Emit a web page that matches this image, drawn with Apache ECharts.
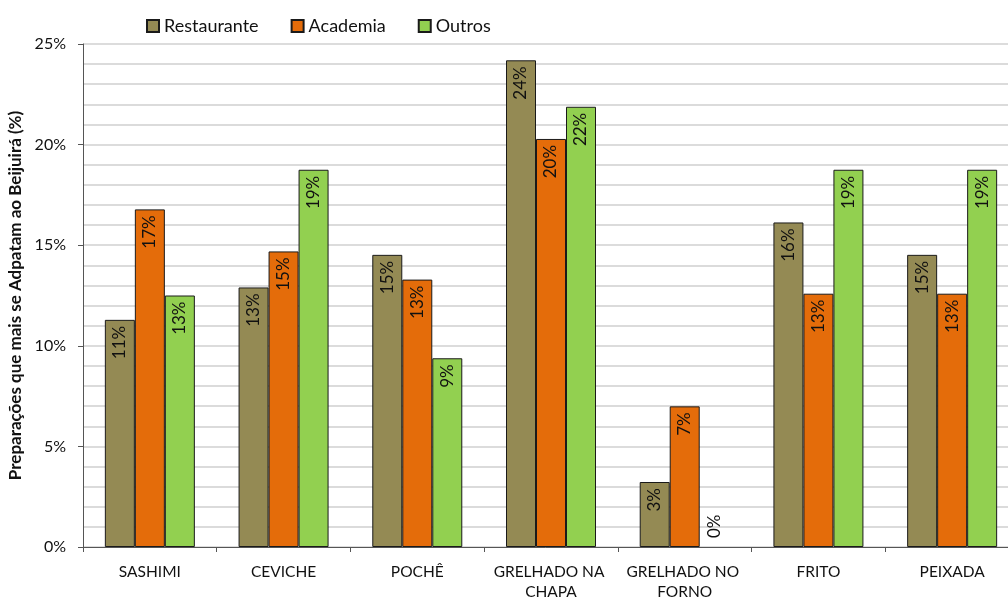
<!DOCTYPE html>
<html>
<head>
<meta charset="utf-8">
<script src="https://cdn.jsdelivr.net/npm/echarts@6/dist/echarts.min.js"></script>
<style>
html,body{margin:0;padding:0;background:#fff;}
#chart{width:1008px;height:598px;}
</style>
</head>
<body>
<div id="chart"></div>
<script>
// Categories and values (percent) per group
const categories = ['SASHIMI', 'CEVICHE', 'POCHÊ', 'GRELHADO NA CHAPA', 'GRELHADO NO FORNO', 'FRITO', 'PEIXADA'];
const restaurante = [11.29, 12.90, 14.52, 24.19, 3.23, 16.13, 14.52];
const academia = [16.78, 14.69, 13.29, 20.28, 6.99, 12.59, 12.59];
const outros = [12.50, 18.75, 9.38, 21.88, 0.00, 18.75, 18.75];
const yTicks = [0, 5, 10, 15, 20, 25];

const FONT = 'Lato, "Open Sans", sans-serif';

// A zero-height bar keeps its label above the axis and shows no outline
function labelled(values) {
  return values.map(v => {
    if (v === 0) {
      return {
        value: v,
        itemStyle: { borderWidth: 0 },
        label: { position: 'insideBottom', align: 'left', distance: 9 }
      };
    }
    return v;
  });
}

function bar(name, values, color) {
  return {
    name: name,
    type: 'bar',
    data: labelled(values),
    barWidth: 30,
    barGap: '0%',
    itemStyle: { color: color, borderColor: '#1a1a1a', borderWidth: 1 },
    label: {
      show: true,
      position: 'insideTop',
      rotate: 90,
      align: 'right',
      verticalAlign: 'middle',
      distance: 6,
      color: '#111',
      fontFamily: FONT,
      fontSize: 17,
      formatter: p => Math.round(p.value) + '%'
    }
  };
}

const chart = echarts.init(document.getElementById('chart'));
chart.setOption({
  animation: false,
  backgroundColor: '#fff',
  textStyle: { fontFamily: FONT },
  legend: {
    top: 12,
    left: 141,
    itemWidth: 12,
    itemHeight: 12,
    itemGap: 32,
    icon: 'rect',
    textStyle: { fontFamily: FONT, fontSize: 18, color: '#111' },
    data: ['Restaurante', 'Academia', 'Outros']
  },
  grid: { left: 83, width: 936, top: 44, bottom: 51, outerBoundsMode: 'none', containLabel: false },
  xAxis: {
    type: 'category',
    data: categories,
    axisLine: { lineStyle: { color: '#555', width: 1 } },
    axisTick: { show: true, length: 5, lineStyle: { color: '#555' } },
    axisLabel: {
      color: '#111',
      fontFamily: FONT,
      fontSize: 15.5,
      margin: 15,
      width: 128,
      overflow: 'break',
      lineHeight: 20,
      interval: 0
    }
  },
  yAxis: {
    type: 'value',
    min: yTicks[0],
    max: yTicks[yTicks.length - 1],
    interval: 5,
    name: 'Preparações que mais se Adpatam ao Beijuirá (%)',
    nameLocation: 'middle',
    nameGap: 54,
    nameTextStyle: { fontFamily: FONT, fontSize: 17, fontWeight: 'bold', color: '#111' },
    axisLine: { show: true, lineStyle: { color: '#555', width: 1 } },
    axisTick: { show: true, length: 5, lineStyle: { color: '#555' } },
    axisLabel: { color: '#111', fontFamily: FONT, fontSize: 16, margin: 17, formatter: v => v + '%' },
    splitLine: { show: true, lineStyle: { color: '#d0d0d0', width: 1.5 } },
    minorTick: { show: false, splitNumber: 5 },
    minorSplitLine: { show: true, lineStyle: { color: '#d0d0d0', width: 1.5 } }
  },
  series: [
    bar('Restaurante', restaurante, '#948A54'),
    bar('Academia', academia, '#E46C0A'),
    bar('Outros', outros, '#92D050')
  ]
});
</script>
</body>
</html>
